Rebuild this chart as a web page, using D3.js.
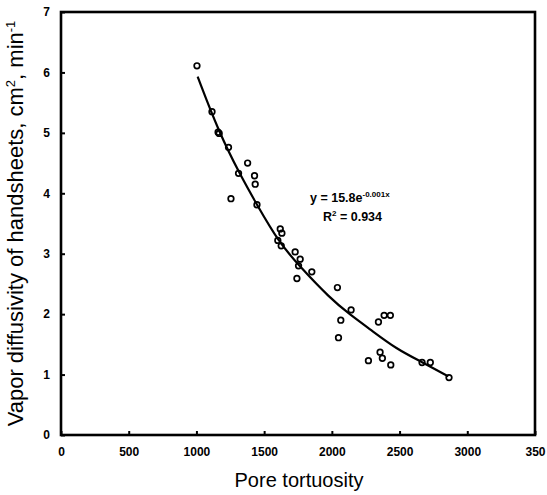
<!DOCTYPE html>
<html>
<head>
<meta charset="utf-8">
<script src="https://cdn.jsdelivr.net/npm/d3@7"></script>
<style>
  body { margin: 0; background: #fff; }
  svg { display: block; }
</style>
</head>
<body>
<div id="chart"></div>
<script>
// measured points (pore tortuosity vs vapor diffusivity)
const tortuosity = [1004, 1115, 1160, 1168, 1237, 1311, 1378, 1429, 1434, 1255, 1447,
  1619, 1631, 1601, 1626, 1729, 1766, 1754, 1742, 1852,
  2041, 2066, 2049, 2142, 2344, 2386, 2432, 2356, 2373, 2270, 2435, 2666, 2727, 2865];
const diffusivity = [6.11, 5.35, 5.01, 4.99, 4.76, 4.33, 4.50, 4.29, 4.15, 3.91, 3.81,
  3.41, 3.34, 3.22, 3.13, 3.03, 2.91, 2.80, 2.59, 2.70,
  2.44, 1.90, 1.61, 2.07, 1.87, 1.98, 1.98, 1.37, 1.27, 1.23, 1.16, 1.20, 1.20, 0.95];

// fitted curve
const fitX = [1009, 1164, 1324, 1447, 1606, 1754, 1988, 2135, 2282, 2479, 2664, 2860];
const fitY = [5.93, 5.02, 4.30, 3.81, 3.20, 2.81, 2.26, 1.99, 1.75, 1.42, 1.21, 0.97];

const xTicks = [0, 500, 1000, 1500, 2000, 2500, 3000, 3500];
const xTickLabels = ["0", "500", "1000", "1500", "2000", "2500", "3000", "350"];
const yTicks = [0, 1, 2, 3, 4, 5, 6, 7];

(() => {
  const margin = { top: 12, right: 12, bottom: 60, left: 61 };
  const width = 547 - margin.left - margin.right;
  const height = 495 - margin.top - margin.bottom;

  const svg = d3.select("#chart").append("svg")
    .attr("width", 547)
    .attr("height", 495)
    .append("g")
    .attr("transform", `translate(${margin.left},${margin.top})`);

  const x = d3.scaleLinear().domain([0, 3500]).range([0, width]);
  const y = d3.scaleLinear().domain([0, 7]).range([height, 0]);

  const font = "'Liberation Sans', Arial, sans-serif";

  // X axis
  const xAxis = svg.append("g")
    .attr("transform", `translate(0,${height})`)
    .call(d3.axisBottom(x).tickValues(xTicks)
      .tickFormat((d, i) => xTickLabels[i])
      .tickSizeInner(-4).tickSizeOuter(0).tickPadding(12));

  // Y axis
  const yAxis = svg.append("g")
    .call(d3.axisLeft(y).tickValues(yTicks)
      .tickFormat(d3.format("d"))
      .tickSizeInner(-4).tickSizeOuter(0).tickPadding(11));

  [xAxis, yAxis].forEach(g => {
    g.select(".domain").remove();
    g.selectAll("line").attr("stroke", "#000").attr("stroke-width", 2);
    g.selectAll("text")
      .style("font-family", font)
      .style("font-size", "12px")
      .style("font-weight", "bold")
      .attr("fill", "#000");
  });

  // Frame
  svg.append("rect")
    .attr("x", 0).attr("y", 0)
    .attr("width", width).attr("height", height)
    .attr("fill", "none")
    .attr("stroke", "#000")
    .attr("stroke-width", 2.6);

  // Fit curve
  const line = d3.line()
    .x((d, i) => x(fitX[i]))
    .y(d => y(d))
    .curve(d3.curveBasis);

  svg.append("path")
    .datum(fitY)
    .attr("d", line)
    .attr("fill", "none")
    .attr("stroke", "#000")
    .attr("stroke-width", 2.2);

  // Points
  svg.selectAll(".pt")
    .data(tortuosity)
    .enter().append("circle")
    .attr("class", "pt")
    .attr("cx", d => x(d))
    .attr("cy", (d, i) => y(diffusivity[i]))
    .attr("r", 2.8)
    .attr("fill", "none")
    .attr("stroke", "#000")
    .attr("stroke-width", 1.7);

  // Equation
  const eq = svg.append("text")
    .attr("x", 310 - margin.left)
    .attr("y", 202 - margin.top)
    .style("font-family", font)
    .style("font-size", "12.5px")
    .style("font-weight", "bold");
  eq.append("tspan").text("y = 15.8e");
  eq.append("tspan").attr("dy", -5).style("font-size", "8px").text("-0.001x");

  const r2 = svg.append("text")
    .attr("x", 323 - margin.left)
    .attr("y", 221 - margin.top)
    .style("font-family", font)
    .style("font-size", "12.5px")
    .style("font-weight", "bold");
  r2.append("tspan").text("R");
  r2.append("tspan").attr("dy", -5).style("font-size", "8px").text("2");
  r2.append("tspan").attr("dy", 5).text(" = 0.934");

  // X axis title
  svg.append("text")
    .attr("x", width / 2 + 1)
    .attr("y", height + 52)
    .attr("text-anchor", "middle")
    .style("font-family", font)
    .style("font-size", "20px")
    .text("Pore tortuosity");

  // Y axis title
  const yt = svg.append("text")
    .attr("transform", "rotate(-90)")
    .attr("x", -height / 2)
    .attr("y", -38)
    .attr("text-anchor", "middle")
    .style("font-family", font)
    .style("font-size", "22px");
  yt.append("tspan").text("Vapor diffusivity of handsheets, cm");
  yt.append("tspan").attr("dy", -8).style("font-size", "13px").text("2");
  yt.append("tspan").attr("dy", 8).text(", min");
  yt.append("tspan").attr("dy", -8).style("font-size", "13px").text("-1");
})();
</script>
</body>
</html>
